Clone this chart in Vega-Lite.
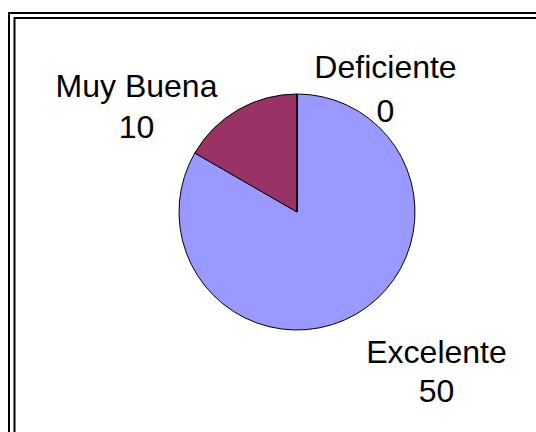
{
  "$schema": "https://vega.github.io/schema/vega-lite/v6.json",
  "width": 576,
  "height": 425,
  "autosize": {"type": "none"},
  "padding": {"left": 9, "top": 13, "right": -49, "bottom": -6},
  "background": "white",
  "config": {
    "view": {"stroke": "black", "strokeWidth": 2},
    "text": {"font": "Liberation Sans", "fontSize": 32, "align": "center", "baseline": "alphabetic", "lineBreak": "\n"}
  },
  "data": {
    "values": [
      {"categoria": "Excelente", "valor": 50},
      {"categoria": "Muy Buena", "valor": 10},
      {"categoria": "Deficiente", "valor": 0}
    ]
  },
  "layer": [
    {
      "data": {"values": [{}]},
      "mark": {"type": "rect", "fill": null, "stroke": "black", "strokeWidth": 2, "xOffset": 5.5, "yOffset": 5},
      "encoding": {
        "x": {"value": 0},
        "x2": {"value": "width"},
        "y": {"value": 0},
        "y2": {"value": "height"}
      }
    },
    {
      "mark": {"type": "arc", "outerRadius": 118, "stroke": "black", "strokeWidth": 1, "yOffset": -13.5},
      "encoding": {
        "theta": {"field": "valor", "type": "quantitative", "stack": true},
        "order": {"field": "valor", "type": "quantitative", "sort": "descending"},
        "color": {
          "field": "categoria",
          "type": "nominal",
          "scale": {"domain": ["Excelente", "Muy Buena", "Deficiente"], "range": ["#9999FF", "#993366", "#FFFFCC"]},
          "legend": null
        }
      }
    },
    {
      "transform": [{"calculate": "datum.categoria + '\\n' + datum.valor", "as": "etiqueta"}],
      "mark": {"type": "text", "dx": 59.5, "dy": -1, "lineHeight": 39},
      "encoding": {
        "theta": {"field": "valor", "type": "quantitative", "stack": true},
        "order": {"field": "valor", "type": "quantitative", "sort": "descending"},
        "radius": {"value": 160},
        "color": {"value": "black"},
        "text": {"condition": {"test": "datum.categoria === 'Excelente'", "field": "etiqueta"}, "value": ""}
      }
    },
    {
      "transform": [{"calculate": "datum.categoria + '\\n' + datum.valor", "as": "etiqueta"}],
      "mark": {"type": "text", "dx": -80.5, "dy": 10, "lineHeight": 41},
      "encoding": {
        "theta": {"field": "valor", "type": "quantitative", "stack": true},
        "order": {"field": "valor", "type": "quantitative", "sort": "descending"},
        "radius": {"value": 160},
        "color": {"value": "black"},
        "text": {"condition": {"test": "datum.categoria === 'Muy Buena'", "field": "etiqueta"}, "value": ""}
      }
    },
    {
      "transform": [{"calculate": "datum.categoria + '\\n' + datum.valor", "as": "etiqueta"}],
      "mark": {"type": "text", "dx": 88.5, "dy": 12.5, "lineHeight": 44},
      "encoding": {
        "theta": {"field": "valor", "type": "quantitative", "stack": true},
        "order": {"field": "valor", "type": "quantitative", "sort": "descending"},
        "radius": {"value": 160},
        "color": {"value": "black"},
        "text": {"condition": {"test": "datum.categoria === 'Deficiente'", "field": "etiqueta"}, "value": ""}
      }
    }
  ]
}
